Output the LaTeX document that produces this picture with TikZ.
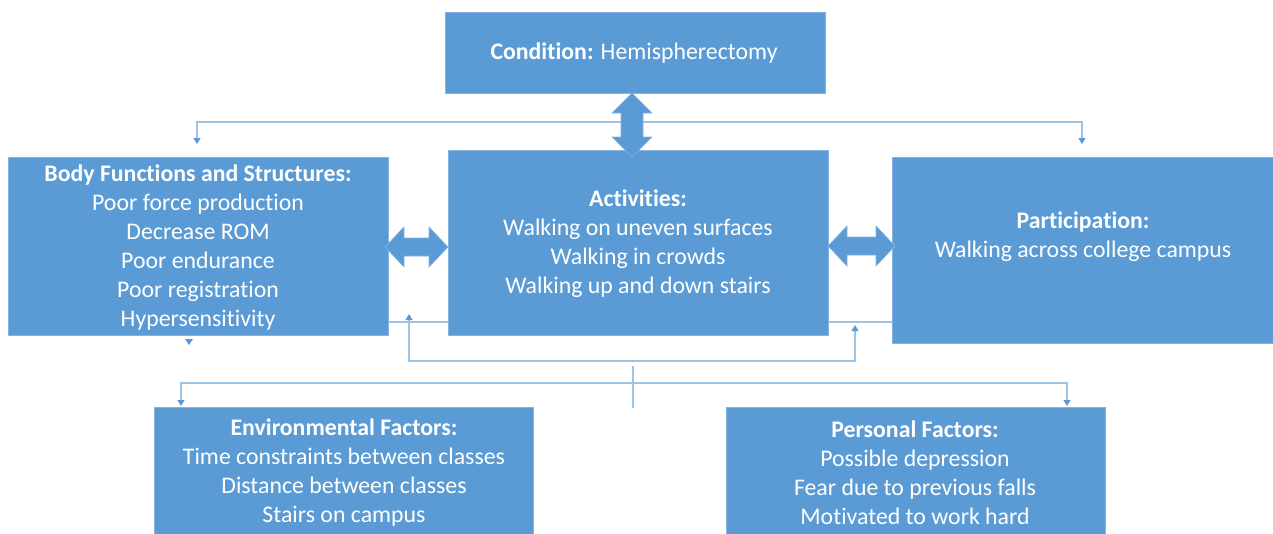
\documentclass[tikz,border=0pt]{standalone}
\usepackage{fontspec}
\setmainfont{Carlito}[Ligatures=NoCommon]
\usetikzlibrary{arrows.meta}
\definecolor{boxblue}{HTML}{5B9BD5}
\definecolor{boxedge}{HTML}{86B4E0}
\definecolor{linkblue}{HTML}{9DC3E6}
\tikzset{
  box/.style={fill=boxblue, draw=boxedge, line width=0.8pt},
  txt/.style={text=white, align=center, inner sep=0pt, font=\fontsize{23.8}{29}\selectfont},
  conn/.style={draw=linkblue, line width=1.4pt},
  tipd/.style={-{Triangle[width=7pt,length=6pt,color=boxblue]}},
  tipb/.style={{Triangle[width=7pt,length=6pt,color=boxblue]}-{Triangle[width=7pt,length=6pt,color=boxblue]}},
  blockarrow/.style={fill=boxblue, draw=boxedge, line width=0.6pt}
}
\begin{document}
\begin{tikzpicture}[x=1pt,y=-1pt]
\useasboundingbox (0,0) rectangle (1273,533);
% connectors behind boxes
\coordinate (tl) at (197,144);
\coordinate (tr) at (1082,144);
\draw[conn,tipb] (tl) -- (197,122) -- (1082,122) -- (tr);
\coordinate (l1) at (388,322);
\coordinate (l2) at (448,322);
\coordinate (r1) at (828,322);
\coordinate (r2) at (892,322);
\draw[conn] (l1) -- (l2);
\draw[conn] (r1) -- (r2);
\coordinate (la) at (409,314);
\coordinate (ra) at (855,325);
\draw[conn,tipb] (la) -- (409,361) -- (855,361) -- (ra);
\coordinate (bv1) at (633,366);
\coordinate (bv2) at (633,408);
\draw[conn] (bv1) -- (bv2);
\coordinate (el) at (181,406);
\coordinate (er) at (1067,406);
\draw[conn,tipb] (el) -- (181,383) -- (1067,383) -- (er);
\fill[boxblue] (185,339) -- (193,339) -- (189,345) -- cycle;
% boxes
\node[box, minimum width=380pt, minimum height=81pt, inner sep=0pt] (cond) at (635,52.5) {};
\node[box, minimum width=380pt, minimum height=178pt, inner sep=0pt] (body) at (198,246) {};
\node[box, minimum width=380pt, minimum height=185pt, inner sep=0pt] (act) at (638,242.5) {};
\node[box, minimum width=381pt, minimum height=186pt, inner sep=0pt] (part) at (1083,250) {};
\node[box, minimum width=379pt, minimum height=140pt, inner sep=0pt] (env) at (343.5,477) {};
\node[box, minimum width=379pt, minimum height=140pt, inner sep=0pt] (pers) at (915.5,477) {};
% block arrows
\draw[blockarrow] (632,93) -- (652,113) -- (643,113) -- (643,137) -- (652,137) -- (632,157) -- (612,137) -- (621,137) -- (621,113) -- (612,113) -- cycle;
\draw[blockarrow] (385,247) -- (404,227) -- (404,238) -- (429,238) -- (429,227) -- (448,247) -- (429,267) -- (429,256) -- (404,256) -- (404,267) -- cycle;
\draw[blockarrow] (828,246) -- (847,226) -- (847,237) -- (876,237) -- (876,226) -- (895,246) -- (876,266) -- (876,255) -- (847,255) -- (847,266) -- cycle;
% texts
\node[txt] (condt) at (634,53) {\textbf{Condition:} Hemispherectomy};
\node[txt] (bodyt) at (198,247.5) {\textbf{Body Functions and Structures:}\\Poor force production\\Decrease ROM\\Poor endurance\\Poor registration\\Hypersensitivity};
\node[txt] (actt) at (638,243.5) {\textbf{Activities:}\\Walking on uneven surfaces\\Walking in crowds\\Walking up and down stairs};
\node[txt] (partt) at (1083,236.5) {\textbf{Participation:}\\Walking across college campus};
\node[txt] (envt) at (344,472.5) {\textbf{Environmental Factors:}\\Time constraints between classes\\Distance between classes\\Stairs on campus};
\node[txt] (perst) at (915,472.5) {\textbf{Personal Factors:}\\Possible depression\\Fear due to previous falls\\Motivated to work hard};
\end{tikzpicture}
\end{document}
